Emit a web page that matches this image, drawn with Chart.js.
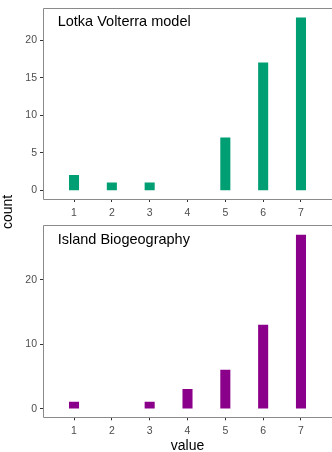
<!DOCTYPE html>
<html><head><meta charset="utf-8">
<script src="https://cdn.jsdelivr.net/npm/chart.js@4"></script>
<style>
html,body{margin:0;padding:0;background:#fff;overflow:hidden;}
#wrap{position:relative;width:332px;height:452px;}
#c1{position:absolute;left:0;top:0;}
#c2{position:absolute;left:0;top:217px;}
#ylab{position:absolute;left:-23px;top:204px;width:60px;height:16px;line-height:16px;text-align:center;
 font:14px 'Liberation Sans',Arial,sans-serif;color:#000;white-space:nowrap;transform:rotate(-90deg);}
</style>
</head><body>
<div id="wrap">
<canvas id="c1" width="332" height="217"></canvas>
<canvas id="c2" width="332" height="235"></canvas>
<div id="ylab">count</div>
</div>
<script>
// ---- data ----
const xValues = [1, 2, 3, 4, 5, 6, 7];
const xTickLabels = ['1', '2', '3', '4', '5', '6', '7'];
const lotkaCounts = [2, 1, 1, 0, 7, 17, 23];
const islandCounts = [1, 0, 1, 3, 6, 13, 27];
const lotkaYTicks = [0, 5, 10, 15, 20];
const islandYTicks = [0, 10, 20];
const panelTitles = ['Lotka Volterra model', 'Island Biogeography'];
const xTitle = 'value';

Chart.defaults.font.family = "'Liberation Sans', Arial, sans-serif";

const panelPlugin = {
  id: 'panel',
  afterDraw(chart, args, opts) {
    const {ctx, chartArea: a} = chart;
    ctx.save();
    ctx.strokeStyle = '#8a8a8a';
    ctx.lineWidth = 1;
    const L = Math.round(a.left) + 0.5, T = Math.round(a.top) - 0.5, B = Math.round(a.bottom) + 0.5;
    ctx.beginPath();
    ctx.moveTo(a.right + 5, T);
    ctx.lineTo(L, T);
    ctx.lineTo(L, B);
    ctx.lineTo(a.right + 5, B);
    ctx.stroke();
    ctx.fillStyle = '#000';
    ctx.font = "14.5px 'Liberation Sans', Arial, sans-serif";
    ctx.textBaseline = 'alphabetic';
    ctx.textAlign = 'left';
    ctx.fillText(opts.title, a.left + 14.7, a.top + opts.titleOffset);
    ctx.restore();
  }
};

function makeChart(id, counts, color, yMin, yMax, yTicks, title, padTop, xHeight, showXTitle, titleOffset) {
  return new Chart(document.getElementById(id), {
    type: 'bar',
    data: {
      datasets: [{
        data: xValues.map((x, i) => ({x: x, y: counts[i]})),
        backgroundColor: c => (c.raw && c.raw.y === 0) ? 'rgba(0,0,0,0)' : color,
        borderWidth: 0,
        barThickness: 9.4
      }]
    },
    options: {
      responsive: false,
      animation: false,
      devicePixelRatio: 1,
      layout: {padding: {top: padTop, left: 0, right: 0, bottom: 0}},
      plugins: {legend: {display: false}, tooltip: {enabled: false}, title: {display: false},
        panel: {title: title, titleOffset: titleOffset}},
      scales: {
        x: {
          type: 'linear', min: 0.18, max: 7.82, offset: false,
          afterBuildTicks: s => { s.ticks = xValues.map(v => ({value: v})); },
          afterFit: s => { s.height = xHeight; },
          grid: {display: true, offset: false, drawOnChartArea: false, drawTicks: true, tickLength: 3, tickColor: '#333', tickWidth: 1},
          border: {display: false},
          ticks: {color: '#4d4d4d', font: {size: 10.5}, padding: 5, autoSkip: false, maxRotation: 0,
            callback: (v, i) => xTickLabels[i]},
          title: {display: showXTitle, text: xTitle, color: '#000', font: {size: 14}, padding: {top: 0, bottom: -3}}
        },
        y: {
          type: 'linear', min: yMin, max: yMax,
          afterBuildTicks: s => { s.ticks = yTicks.map(v => ({value: v})); },
          afterFit: s => { s.width = 43; },
          grid: {display: true, drawOnChartArea: false, drawTicks: true, tickLength: 3, tickColor: '#333', tickWidth: 1},
          border: {display: false},
          ticks: {color: '#4d4d4d', font: {size: 10.5}, padding: 3}
        }
      }
    },
    plugins: [panelPlugin]
  });
}

makeChart('c1', lotkaCounts, '#009E73', -1.15, 24.15, lotkaYTicks, panelTitles[0], 7, 18, false, 16.3);
makeChart('c2', islandCounts, '#8B008B', -1.35, 28.35, islandYTicks, panelTitles[1], 7.7, 34.7, true, 17.3);
</script>
</body></html>
